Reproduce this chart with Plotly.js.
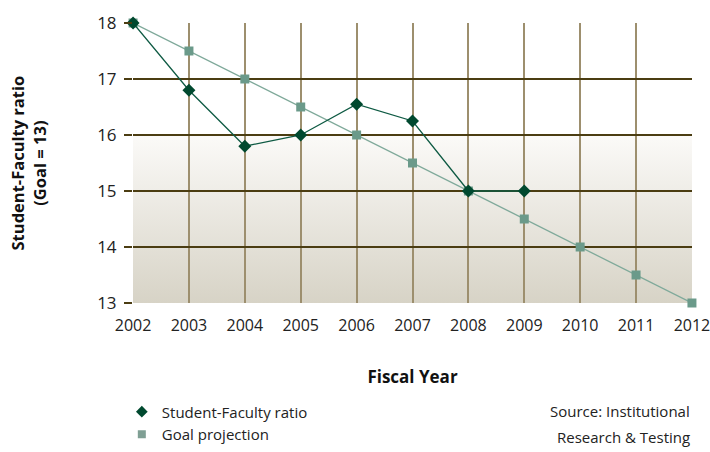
<!DOCTYPE html>
<html>
<head>
<meta charset="utf-8">
<script src="https://cdn.plot.ly/plotly-3.0.1.min.js"></script>
<style>html,body{margin:0;padding:0;background:#fff;}#chart{width:710px;height:452px;}</style>
</head>
<body>
<div id="chart"></div>
<script>
const years = [2002, 2003, 2004, 2005, 2006, 2007, 2008, 2009, 2010, 2011, 2012];
const ratioYears = [2002, 2003, 2004, 2005, 2006, 2007, 2008, 2009];
const ratioValues = [18, 16.8, 15.8, 16.0, 16.55, 16.25, 15, 15];
const goalValues = [18, 17.5, 17, 16.5, 16, 15.5, 15, 14.5, 14, 13.5, 13];
const yTicks = [13, 14, 15, 16, 17, 18];
const ratioName = 'Student-Faculty ratio';
const goalName = 'Goal projection';
const sourceLine1 = 'Source: Institutional';
const sourceLine2 = 'Research & Testing';

const darkGreen = '#00492f';
const goalGreen = '#6b9a8a';
const font = 'Open Sans, sans-serif';

const grad = 'data:image/svg+xml;base64,' + btoa(
  '<svg xmlns="http://www.w3.org/2000/svg" width="100" height="100" preserveAspectRatio="none">' +
  '<defs><linearGradient id="g" x1="0" y1="0" x2="0" y2="1">' +
  '<stop offset="0" stop-color="#ffffff"/><stop offset="0.4" stop-color="#ffffff"/>' +
  '<stop offset="0.401" stop-color="#fbfaf8"/><stop offset="1" stop-color="#d7d3c6"/>' +
  '</linearGradient></defs><rect width="100" height="100" fill="url(#g)"/></svg>');

const traces = [
  {x: years, y: goalValues, mode: 'lines+markers', name: goalName, showlegend: false, cliponaxis: false,
   line: {color: '#7fa99a', width: 1.3}, marker: {symbol: 'square', size: 9, color: goalGreen}},
  {x: ratioYears, y: ratioValues, mode: 'lines+markers', name: ratioName, showlegend: false, cliponaxis: false,
   line: {color: '#0e5a43', width: 1.3}, marker: {symbol: 'diamond', size: 10, color: darkGreen}},
  {x: [null], y: [null], mode: 'markers', name: ratioName,
   marker: {symbol: 'diamond', size: 9, color: darkGreen}},
  {x: [null], y: [null], mode: 'markers', name: goalName,
   marker: {symbol: 'square', size: 8, color: '#7f9f94'}}
];

const layout = {
  width: 710, height: 452,
  margin: {l: 133, r: 18, t: 23, b: 149, autoexpand: false},
  paper_bgcolor: '#ffffff', plot_bgcolor: 'rgba(0,0,0,0)',
  font: {family: font, size: 16, color: '#222'},
  images: [{source: grad, xref: 'paper', yref: 'paper', x: 0, y: 1, sizex: 1, sizey: 1,
            sizing: 'stretch', layer: 'below', xanchor: 'left', yanchor: 'top'}],
  xaxis: {range: [2001.999, 2012.001], tickvals: years, ticktext: years.map(String), automargin: false,
          showgrid: true, gridcolor: '#9d8f6e', gridwidth: 2, zeroline: false, showline: false,
          ticks: 'outside', ticklen: 5, tickcolor: 'rgba(0,0,0,0)', ticklabelstandoff: 3,
          ticklabeloverflow: 'allow',
          tickfont: {family: font, size: 16, color: '#222'},
          title: {text: '<b>Fiscal Year</b>', font: {family: font, size: 17, color: '#111'}, standoff: 35}},
  yaxis: {range: [13, 18], tickvals: yTicks, ticktext: yTicks.map(String), automargin: false,
          showgrid: true, gridcolor: '#4b3d12', gridwidth: 1.4, zeroline: false, showline: false,
          ticks: 'outside', ticklen: 8, tickcolor: '#4b3d12', tickwidth: 1.4, ticklabelstandoff: 4,
          ticklabeloverflow: 'allow',
          tickfont: {family: font, size: 17, color: '#222'}},
  legend: {x: -0.02, y: -0.33, xanchor: 'left', yanchor: 'top', orientation: 'v',
           font: {family: font, size: 15, color: '#222'}, bgcolor: 'rgba(0,0,0,0)',
           tracegroupgap: 0, itemwidth: 30},
  annotations: [
    {text: '<b>Student-Faculty ratio<br>(Goal = 13)</b>', xref: 'paper', yref: 'paper',
     x: -0.187, xanchor: 'center', y: 0.5, yanchor: 'middle', textangle: -90, showarrow: false,
     font: {family: font, size: 16.5, color: '#111'}},
    {text: sourceLine1, xref: 'paper', yref: 'paper', x: 1.0, xanchor: 'right',
     y: -0.385, yanchor: 'middle', align: 'right', showarrow: false,
     font: {family: font, size: 15, color: '#222'}},
    {text: sourceLine2, xref: 'paper', yref: 'paper', x: 1.0, xanchor: 'right',
     y: -0.478, yanchor: 'middle', align: 'right', showarrow: false,
     font: {family: font, size: 15, color: '#222'}}
  ]
};

Plotly.newPlot('chart', traces, layout, {displayModeBar: false, staticPlot: true});
</script>
</body>
</html>
